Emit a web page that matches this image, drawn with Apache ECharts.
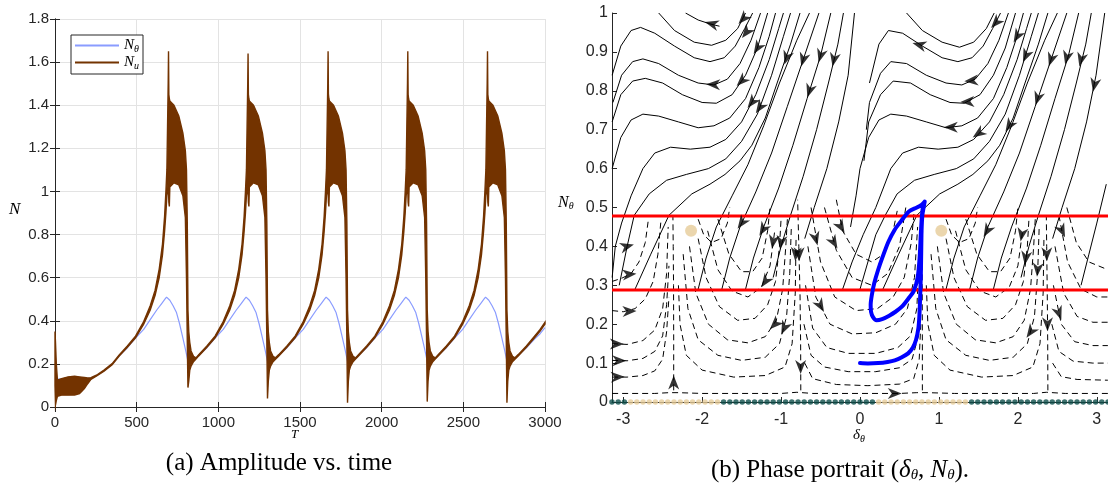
<!DOCTYPE html>
<html><head><meta charset="utf-8">
<script src="https://cdn.jsdelivr.net/npm/echarts@6/dist/echarts.min.js"></script>
<style>html,body{margin:0;padding:0;background:#fff}#c{width:1108px;height:490px}</style>
</head><body><div id="c"></div><script>
// ---------------- (a) Amplitude vs. time ----------------
const timeTicks = [0, 500, 1000, 1500, 2000, 2500, 3000];
const ampTicks = [0, 0.2, 0.4, 0.6, 0.8, 1, 1.2, 1.4, 1.6, 1.8];
// N_theta : [T, value]
const nTheta = [
 [0,0.13],[100,0.131],[200,0.133],[220,0.134],[260,0.148],[300,0.168],[350,0.198],[393,0.238],[443,0.275],[493,0.32],[543,0.36],[583,0.405],[623,0.45],[653,0.48],[673,0.5],[683,0.51],[691,0.505],[703,0.495],[723,0.47],[743,0.44],[763,0.385],[783,0.32],[798,0.27],[816,0.205],[823,0.215],[848,0.222],[863,0.225],
 [880,0.24],[930,0.275],[980,0.32],[1030,0.36],[1070,0.405],[1110,0.45],[1140,0.48],[1160,0.5],[1170,0.51],[1178,0.505],[1190,0.495],[1210,0.47],[1230,0.44],[1250,0.385],[1270,0.32],[1285,0.27],[1303,0.205],[1310,0.215],[1335,0.222],[1350,0.225],
 [1370,0.24],[1420,0.275],[1470,0.32],[1520,0.36],[1560,0.405],[1600,0.45],[1630,0.48],[1650,0.5],[1660,0.51],[1668,0.505],[1680,0.495],[1700,0.47],[1720,0.44],[1740,0.385],[1760,0.32],[1775,0.27],[1793,0.205],[1800,0.215],[1825,0.222],[1840,0.225],
 [1858,0.24],[1908,0.275],[1958,0.32],[2008,0.36],[2048,0.405],[2088,0.45],[2118,0.48],[2138,0.5],[2148,0.51],[2156,0.505],[2168,0.495],[2188,0.47],[2208,0.44],[2228,0.385],[2248,0.32],[2263,0.27],[2281,0.205],[2288,0.215],[2313,0.222],[2328,0.225],
 [2346,0.24],[2396,0.275],[2446,0.32],[2496,0.36],[2536,0.405],[2576,0.45],[2606,0.48],[2626,0.5],[2636,0.51],[2644,0.505],[2656,0.495],[2676,0.47],[2696,0.44],[2716,0.385],[2736,0.32],[2751,0.27],[2769,0.205],[2776,0.215],[2801,0.222],[2816,0.225],
 [2836,0.24],[2886,0.275],[2936,0.315],[2970,0.34],[3000,0.368]
];
// N_u oscillation envelope : [T, lower, upper]
const nU = [
 [0,0.1,0.35],[3,0.01,0.3],[8,0.03,0.2],[15,0.05,0.125],[40,0.055,0.132],[80,0.055,0.14],[120,0.056,0.143],[150,0.062,0.14],[180,0.085,0.137],[200,0.108,0.135],[220,0.128,0.136],
 [260,0.146,0.15],[300,0.166,0.171],[350,0.196,0.201],[393,0.236,0.242],[443,0.277,0.283],[493,0.321,0.329],[543,0.384,0.396],[583,0.45,0.47],[613,0.518,0.542],[638,0.6,0.64],[658,0.705,0.755],[671,0.815,0.885],[679,0.9,1.0],
 [685,0.98,1.1],[689,1.0,1.3],[693,1.05,1.5],[695,1.0,1.65],[697,0.95,1.45],[700,0.93,1.43],[703,1.02,1.42],[728,1.04,1.4],[758,1.03,1.35],[783,0.98,1.27],[798,0.88,1.19],[805,0.6,1.1],[810,0.3,0.85],[814,0.09,0.45],[819,0.12,0.35],[825,0.17,0.3],[833,0.19,0.26],[848,0.21,0.235],[863,0.222,0.228],
 [880,0.237,0.243],[930,0.277,0.283],[980,0.321,0.329],[1030,0.384,0.396],[1070,0.45,0.47],[1100,0.518,0.542],[1125,0.6,0.64],[1145,0.705,0.755],[1158,0.815,0.885],[1166,0.9,1.0],
 [1172,0.98,1.1],[1176,1.0,1.3],[1180,1.05,1.5],[1182,1.0,1.64],[1184,0.95,1.45],[1187,0.93,1.43],[1190,1.02,1.42],[1215,1.04,1.4],[1245,1.03,1.35],[1270,0.98,1.27],[1285,0.88,1.19],[1292,0.6,1.1],[1297,0.3,0.85],[1301,0.04,0.45],[1306,0.12,0.35],[1312,0.17,0.3],[1320,0.19,0.26],[1335,0.21,0.235],[1350,0.222,0.228],
 [1370,0.237,0.243],[1420,0.277,0.283],[1470,0.321,0.329],[1520,0.384,0.396],[1560,0.45,0.47],[1590,0.518,0.542],[1615,0.6,0.64],[1635,0.705,0.755],[1648,0.815,0.885],[1656,0.9,1.0],
 [1662,0.98,1.1],[1666,1.0,1.3],[1670,1.05,1.5],[1672,1.0,1.65],[1674,0.95,1.45],[1677,0.93,1.43],[1680,1.02,1.42],[1705,1.04,1.4],[1735,1.03,1.35],[1760,0.98,1.27],[1775,0.88,1.19],[1782,0.6,1.1],[1787,0.3,0.85],[1791,0.02,0.45],[1796,0.12,0.35],[1802,0.17,0.3],[1810,0.19,0.26],[1825,0.21,0.235],[1840,0.222,0.228],
 [1858,0.237,0.243],[1908,0.277,0.283],[1958,0.321,0.329],[2008,0.384,0.396],[2048,0.45,0.47],[2078,0.518,0.542],[2103,0.6,0.64],[2123,0.705,0.755],[2136,0.815,0.885],[2144,0.9,1.0],
 [2150,0.98,1.1],[2154,1.0,1.3],[2158,1.05,1.5],[2160,1.0,1.65],[2162,0.95,1.45],[2165,0.93,1.43],[2168,1.02,1.42],[2193,1.04,1.4],[2223,1.03,1.35],[2248,0.98,1.27],[2263,0.88,1.19],[2270,0.6,1.1],[2275,0.3,0.85],[2279,0.025,0.45],[2284,0.12,0.35],[2290,0.17,0.3],[2298,0.19,0.26],[2313,0.21,0.235],[2328,0.222,0.228],
 [2346,0.237,0.243],[2396,0.277,0.283],[2446,0.321,0.329],[2496,0.384,0.396],[2536,0.45,0.47],[2566,0.518,0.542],[2591,0.6,0.64],[2611,0.705,0.755],[2624,0.815,0.885],[2632,0.9,1.0],
 [2638,0.98,1.1],[2642,1.0,1.3],[2646,1.05,1.5],[2648,1.0,1.65],[2650,0.95,1.45],[2653,0.93,1.43],[2656,1.02,1.42],[2681,1.04,1.4],[2711,1.03,1.35],[2736,0.98,1.27],[2751,0.88,1.19],[2758,0.6,1.1],[2763,0.3,0.85],[2767,0.02,0.45],[2772,0.12,0.35],[2778,0.17,0.3],[2786,0.19,0.26],[2801,0.21,0.235],[2816,0.222,0.228],
 [2836,0.237,0.243],[2886,0.277,0.283],[2936,0.321,0.329],[2970,0.352,0.36],[3000,0.385,0.393]
];

// ---------------- (b) Phase portrait ----------------
const deltaTicks = [-3, -2, -1, 0, 1, 2, 3];
const nThetaTicks = [0, 0.1, 0.2, 0.3, 0.4, 0.5, 0.6, 0.7, 0.8, 0.9, 1];
const redLevels = [0.288, 0.478];
const fixedPoints = [[-2.14, 0.44], [1.03, 0.44]];
const greenDotsX = [-3.142,-3.063,-2.985,
 -1.728,-1.649,-1.571,-1.492,-1.414,-1.335,-1.257,-1.178,-1.100,-1.021,-0.942,-0.864,-0.785,-0.707,-0.628,-0.550,-0.471,-0.393,-0.314,-0.236,-0.157,-0.079,0.000,0.079,0.157,
 1.414,1.492,1.571,1.649,1.728,1.806,1.885,1.963,2.042,2.121,2.199,2.278,2.356,2.435,2.513,2.592,2.670,2.749,2.827,2.906,2.985,3.063,3.142];
const beigeDotsX = [-2.906,-2.827,-2.749,-2.670,-2.592,-2.513,-2.435,-2.356,-2.278,-2.199,-2.121,-2.042,-1.963,-1.885,-1.806,
 0.236,0.314,0.393,0.471,0.550,0.628,0.707,0.785,0.864,0.942,1.021,1.100,1.178,1.257,1.335];
const blueOrbit = [[0.0,0.1],[0.1,0.099],[0.23,0.1],[0.35,0.103],[0.44,0.107],[0.53,0.115],[0.61,0.125],[0.67,0.14],[0.71,0.16],[0.74,0.19],[0.752,0.22],[0.762,0.27],[0.77,0.32],[0.775,0.38],[0.78,0.44],[0.79,0.48],[0.81,0.505],[0.82,0.515],[0.78,0.507],[0.72,0.5],[0.62,0.49],[0.52,0.465],[0.44,0.443],[0.36,0.412],[0.29,0.375],[0.23,0.34],[0.18,0.305],[0.15,0.275],[0.135,0.25],[0.14,0.232],[0.165,0.218],[0.21,0.21],[0.28,0.213],[0.37,0.222],[0.45,0.232],[0.53,0.245],[0.61,0.265],[0.68,0.285],[0.73,0.32],[0.755,0.37],[0.77,0.43],[0.785,0.48],[0.8,0.505],[0.82,0.515]];

const solidLeft = [
 [[-2.55,1.0],[-2.35,0.955],[-2.1,0.925],[-1.88,0.917],[-1.7,0.93],[-1.55,0.96],[-1.45,1.0]],
 [[-2.21,1.0],[-2.05,0.982],[-1.9,0.972],[-1.78,0.966]],
 [[-3.14,0.84],[-3.03,0.915],[-2.9,0.955],[-2.78,0.963],[-2.6,0.948],[-2.35,0.915],[-2.1,0.885],[-1.9,0.875],[-1.72,0.885],[-1.58,0.915],[-1.46,0.96],[-1.36,1.0]],
 [[-3.13,0.77],[-3.02,0.84],[-2.88,0.875],[-2.75,0.882],[-2.55,0.87],[-2.3,0.84],[-2.05,0.82],[-1.85,0.815],[-1.68,0.83],[-1.52,0.87],[-1.38,0.93],[-1.26,1.0]],
 [[-3.14,0.72],[-3.03,0.79],[-2.88,0.825],[-2.72,0.832],[-2.5,0.82],[-2.25,0.79],[-2.0,0.77],[-1.82,0.768],[-1.62,0.79],[-1.45,0.84],[-1.3,0.91],[-1.17,1.0]],
 [[-3.14,0.6],[-3.03,0.68],[-2.9,0.725],[-2.75,0.74],[-2.55,0.735],[-2.3,0.72],[-2.05,0.705],[-1.85,0.71],[-1.65,0.73],[-1.45,0.78],[-1.28,0.86],[-1.15,0.94],[-1.07,1.0]],
 [[-3.14,0.32],[-3.1,0.4],[-3.02,0.46],[-2.9,0.53],[-2.75,0.6],[-2.6,0.64],[-2.4,0.655],[-2.15,0.65],[-1.9,0.655],[-1.7,0.675],[-1.5,0.72],[-1.32,0.79],[-1.15,0.88],[-1.03,0.96],[-0.97,1.0]],
 [[-3.05,0.3],[-2.95,0.4],[-2.86,0.48],[-2.67,0.535],[-2.45,0.57],[-2.2,0.585],[-1.92,0.6],[-1.7,0.625],[-1.5,0.67],[-1.3,0.74],[-1.12,0.84],[-0.97,0.94],[-0.88,1.0]],
 [[-2.85,0.29],[-2.65,0.38],[-2.42,0.48],[-2.13,0.535],[-1.9,0.56],[-1.71,0.585],[-1.52,0.62],[-1.37,0.66],[-1.2,0.73],[-1.05,0.82],[-0.88,0.92],[-0.76,1.0]],
 [[-2.05,0.29],[-1.95,0.37],[-1.82,0.45],[-1.62,0.53],[-1.42,0.61],[-1.22,0.71],[-1.02,0.82],[-0.8,0.93],[-0.64,1.0]],
 [[-1.75,0.29],[-1.65,0.37],[-1.52,0.45],[-1.32,0.54],[-1.12,0.64],[-0.92,0.76],[-0.72,0.88],[-0.52,1.0]],
 [[-1.45,0.29],[-1.35,0.37],[-1.22,0.45],[-1.03,0.55],[-0.85,0.66],[-0.67,0.78],[-0.5,0.89],[-0.37,1.0]],
 [[-1.1,0.32],[-1.0,0.4],[-0.88,0.48],[-0.72,0.58],[-0.55,0.7],[-0.4,0.82],[-0.28,0.92],[-0.21,1.0]],
 [[-0.7,0.42],[-0.58,0.5],[-0.42,0.6],[-0.27,0.72],[-0.15,0.84],[-0.07,1.0]]
];
const solidRight = [
 [[0.59,1.0],[0.79,0.955],[1.04,0.925],[1.26,0.912],[1.44,0.925],[1.6,0.96],[1.7,1.0]],
 [[0.12,0.82],[0.24,0.92],[0.36,0.955],[0.54,0.948],[0.79,0.915],[1.04,0.885],[1.24,0.875],[1.42,0.885],[1.56,0.915],[1.68,0.96],[1.78,1.0]],
 [[0.08,0.7],[0.12,0.77],[0.26,0.845],[0.39,0.875],[0.59,0.87],[0.84,0.84],[1.09,0.82],[1.29,0.815],[1.46,0.83],[1.62,0.87],[1.76,0.93],[1.88,1.0]],
 [[0.05,0.62],[0.11,0.72],[0.26,0.79],[0.42,0.825],[0.64,0.82],[0.89,0.79],[1.14,0.77],[1.32,0.768],[1.52,0.79],[1.69,0.84],[1.84,0.91],[1.97,1.0]],
 [[-0.12,0.45],[-0.05,0.53],[0.0,0.6],[0.11,0.68],[0.24,0.725],[0.39,0.74],[0.59,0.735],[0.84,0.72],[1.09,0.705],[1.29,0.71],[1.49,0.73],[1.69,0.78],[1.86,0.86],[1.99,0.94],[2.07,1.0]],
 [[-0.22,0.29],[-0.1,0.36],[0.04,0.43],[0.2,0.5],[0.39,0.6],[0.54,0.64],[0.74,0.655],[0.99,0.65],[1.24,0.655],[1.44,0.675],[1.64,0.72],[1.82,0.79],[1.99,0.88],[2.11,0.96],[2.17,1.0]],
 [[0.0,0.29],[0.1,0.36],[0.2,0.43],[0.32,0.48],[0.47,0.535],[0.69,0.57],[0.94,0.585],[1.22,0.6],[1.44,0.625],[1.64,0.67],[1.84,0.74],[2.02,0.84],[2.17,0.94],[2.26,1.0]],
 [[0.29,0.29],[0.49,0.38],[0.72,0.48],[1.01,0.535],[1.24,0.56],[1.43,0.585],[1.62,0.62],[1.77,0.66],[1.94,0.73],[2.09,0.82],[2.26,0.92],[2.38,1.0]],
 [[1.09,0.29],[1.19,0.37],[1.32,0.45],[1.52,0.53],[1.72,0.61],[1.92,0.71],[2.12,0.82],[2.34,0.93],[2.5,1.0]],
 [[1.39,0.29],[1.49,0.37],[1.62,0.45],[1.82,0.54],[2.02,0.64],[2.22,0.76],[2.42,0.88],[2.62,1.0]],
 [[1.69,0.29],[1.79,0.37],[1.92,0.45],[2.11,0.55],[2.29,0.66],[2.47,0.78],[2.64,0.89],[2.77,1.0]],
 [[2.04,0.32],[2.14,0.4],[2.26,0.48],[2.42,0.58],[2.59,0.7],[2.74,0.82],[2.86,0.92],[2.93,1.0]],
 [[2.44,0.42],[2.56,0.5],[2.72,0.6],[2.87,0.72],[2.99,0.84],[3.1,1.0]],
 [[2.8,0.3],[2.9,0.38],[3.0,0.46],[3.12,0.56]]
];
const dashedSeparatrix = [
 [[-3.14,0.022],[-2.6,0.022],[-2.42,0.024],[-2.3,0.024],[-2.0,0.022],[-1.0,0.022],[-0.8,0.025],[-0.6,0.022],[0.5,0.022],[0.72,0.024],[0.86,0.024],[1.2,0.022],[2.2,0.022],[2.36,0.025],[2.6,0.022],[3.14,0.022]],
 [[-2.36,0.03],[-2.36,0.15],[-2.362,0.3],[-2.366,0.4],[-2.37,0.478]],
 [[-0.75,0.03],[-0.752,0.15],[-0.76,0.28],[-0.775,0.4],[-0.79,0.52]],
 [[0.79,0.03],[0.79,0.15],[0.788,0.3],[0.786,0.4],[0.783,0.5]],
 [[2.38,0.03],[2.378,0.15],[2.372,0.28],[2.365,0.4],[2.36,0.48]]
];
const dashedLeft = [
 [[-3.14,0.15],[-2.95,0.148],[-2.75,0.158],[-2.6,0.185],[-2.5,0.24],[-2.45,0.33],[-2.43,0.45]],
 [[-3.14,0.107],[-2.95,0.106],[-2.75,0.112],[-2.6,0.13],[-2.5,0.17],[-2.45,0.25],[-2.42,0.35]],
 [[-3.14,0.064],[-2.95,0.064],[-2.75,0.068],[-2.6,0.08],[-2.5,0.11],[-2.45,0.18],[-2.42,0.27]],
 [[-3.14,0.235],[-3.0,0.232],[-2.85,0.24],[-2.72,0.265],[-2.62,0.31],[-2.56,0.38],[-2.52,0.47]],
 [[-3.14,0.31],[-3.02,0.318],[-2.9,0.33],[-2.8,0.36],[-2.72,0.41],[-2.68,0.47]],
 [[-2.3,0.3],[-2.28,0.2],[-2.2,0.12],[-2.0,0.082],[-1.6,0.064],[-1.2,0.068],[-0.95,0.09],[-0.86,0.15],[-0.82,0.28],[-0.81,0.42]],
 [[-2.24,0.38],[-2.18,0.24],[-2.05,0.16],[-1.8,0.12],[-1.5,0.107],[-1.2,0.115],[-1.02,0.15],[-0.93,0.22],[-0.89,0.33],[-0.87,0.45]],
 [[-2.16,0.4],[-2.08,0.28],[-1.92,0.2],[-1.68,0.16],[-1.42,0.152],[-1.2,0.168],[-1.06,0.21],[-0.98,0.29],[-0.94,0.4],[-0.92,0.47]],
 [[-2.05,0.42],[-1.95,0.32],[-1.78,0.245],[-1.55,0.21],[-1.33,0.215],[-1.17,0.25],[-1.07,0.31],[-1.02,0.4],[-1.0,0.47]],
 [[-1.93,0.44],[-1.8,0.34],[-1.62,0.285],[-1.42,0.27],[-1.25,0.295],[-1.14,0.35],[-1.08,0.44]],
 [[-1.8,0.47],[-1.66,0.38],[-1.5,0.335],[-1.36,0.335],[-1.24,0.37],[-1.17,0.44],[-1.14,0.5]],
 [[-2.05,0.47],[-1.98,0.43],[-1.88,0.41],[-1.76,0.42],[-1.68,0.46],[-1.65,0.5]]
];
const dashedRight = [
 [[-0.7,0.1],[-0.6,0.06],[-0.3,0.045],[0.1,0.042],[0.5,0.046],[0.68,0.06],[0.75,0.11],[0.77,0.2]],
 [[-0.71,0.2],[-0.62,0.12],[-0.45,0.09],[-0.15,0.078],[0.2,0.078],[0.5,0.088],[0.66,0.11],[0.74,0.17],[0.76,0.3]],
 [[-0.69,0.3],[-0.6,0.19],[-0.42,0.14],[-0.15,0.125],[0.2,0.125],[0.48,0.14],[0.64,0.17],[0.72,0.24],[0.75,0.38]],
 [[-0.66,0.4],[-0.56,0.27],[-0.38,0.2],[-0.1,0.175],[0.2,0.178],[0.45,0.2],[0.6,0.24],[0.69,0.32],[0.73,0.45]],
 [[-0.62,0.5],[-0.5,0.36],[-0.32,0.27],[-0.05,0.235],[0.22,0.24],[0.42,0.27],[0.56,0.32],[0.65,0.41],[0.69,0.5]],
 [[-0.45,0.5],[-0.3,0.39],[-0.1,0.32],[0.15,0.3],[0.35,0.33],[0.5,0.4],[0.58,0.5]],
 [[-0.3,0.52],[-0.22,0.44],[-0.05,0.38],[0.15,0.36],[0.3,0.38],[0.42,0.44],[0.48,0.5]],
 [[0.84,0.3],[0.86,0.2],[0.94,0.12],[1.14,0.082],[1.54,0.064],[1.94,0.068],[2.19,0.09],[2.28,0.15],[2.32,0.28],[2.33,0.42]],
 [[0.9,0.38],[0.96,0.24],[1.09,0.16],[1.34,0.12],[1.64,0.107],[1.94,0.115],[2.12,0.15],[2.21,0.22],[2.25,0.33],[2.27,0.45]],
 [[0.98,0.4],[1.06,0.28],[1.22,0.2],[1.46,0.16],[1.72,0.152],[1.94,0.168],[2.08,0.21],[2.16,0.29],[2.2,0.4],[2.22,0.47]],
 [[1.09,0.42],[1.19,0.32],[1.36,0.245],[1.59,0.21],[1.81,0.215],[1.97,0.25],[2.07,0.31],[2.12,0.4],[2.14,0.47]],
 [[1.21,0.44],[1.34,0.34],[1.52,0.285],[1.72,0.27],[1.89,0.295],[2.0,0.35],[2.06,0.44]],
 [[1.34,0.47],[1.48,0.38],[1.64,0.335],[1.78,0.335],[1.9,0.37],[1.97,0.44],[2.0,0.5]],
 [[1.09,0.47],[1.16,0.43],[1.26,0.41],[1.38,0.42],[1.46,0.46],[1.49,0.5]],
 [[2.44,0.1],[2.55,0.065],[2.75,0.058],[3.14,0.056]],
 [[2.43,0.2],[2.52,0.13],[2.7,0.105],[2.95,0.1],[3.14,0.1]],
 [[2.45,0.3],[2.55,0.2],[2.72,0.155],[2.95,0.145],[3.14,0.145]],
 [[2.47,0.4],[2.58,0.28],[2.75,0.22],[2.95,0.205],[3.14,0.205]],
 [[2.52,0.48],[2.63,0.36],[2.8,0.29],[3.0,0.27],[3.14,0.27]],
 [[2.62,0.5],[2.74,0.41],[2.9,0.36],[3.14,0.34]]
];
// arrowheads: [delta, N, direction in degrees (0 = right, 90 = up)]
const arrowsUpper = [
 [-1.88,0.972,165],[-1.48,0.985,228],[-1.44,0.95,232],[-1.3,0.91,238],[-1.86,0.816,178],[-1.5,0.825,225],[-1.37,0.77,232],[-1.27,0.757,236],
 [-0.93,0.885,252],[-0.72,0.88,254],[-0.5,0.89,254],[-0.64,0.8,252],[-0.33,0.88,258],
 [0.75,0.918,165],[1.72,0.975,228],[1.41,0.826,185],[1.36,0.772,182],[1.15,0.706,180],[1.5,0.69,215],[1.89,0.71,238],[1.99,0.94,240],[2.1,0.89,246],
 [2.42,0.88,252],[2.25,0.78,252],[2.62,0.885,256],[2.8,0.88,256],[2.97,0.815,258]
];
const arrowsLower = [
 [-2.95,0.4,15],[-2.92,0.328,5],[-2.92,0.233,2],[-3.08,0.149,0],[-3.05,0.106,0],[-3.07,0.064,2],[-2.36,0.05,90],
 [-1.5,0.46,235],[-1.23,0.443,240],[-1.1,0.412,260],[-1.0,0.41,262],[-0.813,0.38,266],[-0.772,0.38,270],[-0.56,0.42,285],[-0.33,0.41,300],
 [-1.2,0.31,235],[-0.5,0.247,300],[-1.08,0.2,225],[-0.96,0.19,245],[-0.752,0.09,270],[-0.24,0.45,300],[0.44,0.022,0],
 [1.61,0.44,240],[2.05,0.43,260],[2.1,0.37,262],[2.366,0.38,270],[2.25,0.34,265],[2.56,0.44,295],[2.52,0.228,290],[2.375,0.2,270],[2.16,0.18,235]
];

// ---------------- chart ----------------
const chart = echarts.init(document.getElementById('c'), null, {renderer: 'canvas'});
const axisCol = '#262626';
const tickFont = {fontFamily: 'Liberation Sans, Arial, sans-serif', color: axisCol};
const arrowPath = 'path://M0,0 L14,6 L0,12 L4,6 Z';
const xMinB = -Math.PI, xMaxB = Math.PI;
const plain = v => String(v);

function linesSeries(list, dashed, name) {
  return {
    type: 'lines', name: name, coordinateSystem: 'cartesian2d', xAxisIndex: 2, yAxisIndex: 2,
    polyline: true, silent: true, z: 2,
    lineStyle: {color: '#000', width: 1, opacity: 1, type: dashed ? [6, 4] : 'solid'},
    data: list.map(pts => ({coords: pts}))
  };
}
function arrowSeries(list) {
  return {
    type: 'scatter', xAxisIndex: 2, yAxisIndex: 2, symbol: arrowPath, symbolSize: [14, 11],
    symbolRotate: v => v[2], itemStyle: {color: '#000'}, z: 4, silent: true,
    data: list
  };
}

const option = {
  animation: false,
  backgroundColor: '#fff',
  grid: [
    {left: 55, right: 563, top: 19, bottom: 83, show: false},
    {left: 612, right: -4, top: 13, bottom: 88, show: false}
  ],
  legend: {
    data: ['Nθ', 'Nu'], left: 71, top: 35, orient: 'vertical',
    backgroundColor: '#fff', borderColor: axisCol, borderWidth: 1,
    padding: [3, 4, 3, 4], itemGap: 1, itemWidth: 44, itemHeight: 2,
    icon: 'rect',
    formatter: n => n === 'Nθ' ? '{i|N}{s|θ}' : '{i|N}{s|u}',
    textStyle: {rich: {
      i: {fontFamily: 'Liberation Serif', fontStyle: 'italic', fontSize: 15, color: '#000'},
      s: {fontFamily: 'Liberation Serif', fontStyle: 'italic', fontSize: 10, color: '#000', padding: [7, 0, 0, 0]}
    }}
  },
  xAxis: [
    {gridIndex: 0, type: 'value', min: 0, max: 3000, interval: 500,
     axisLine: {lineStyle: {color: axisCol}}, axisTick: {inside: true, length: 5, lineStyle: {color: axisCol}},
     splitLine: {show: true, lineStyle: {color: '#e3e3e3'}},
     axisLabel: Object.assign({fontSize: 15, margin: 8, customValues: timeTicks, formatter: plain}, tickFont)},
    {gridIndex: 0, type: 'value', position: 'top', min: 0, max: 3000, interval: 500,
     axisLine: {lineStyle: {color: axisCol}}, axisTick: {inside: true, length: 5, lineStyle: {color: axisCol}},
     splitLine: {show: false}, axisLabel: {show: false}},
    {gridIndex: 1, type: 'value', min: xMinB, max: xMaxB,
     axisLine: {onZero: false, lineStyle: {color: axisCol}},
     axisTick: {inside: true, length: 5, customValues: deltaTicks, lineStyle: {color: axisCol}},
     splitLine: {show: false},
     axisLabel: Object.assign({fontSize: 16, margin: 10, customValues: deltaTicks, formatter: plain}, tickFont)}
  ],
  yAxis: [
    {gridIndex: 0, type: 'value', min: 0, max: 1.8, interval: 0.2,
     axisLine: {show: true, lineStyle: {color: axisCol}}, axisTick: {show: true, inside: true, length: 5, lineStyle: {color: axisCol}},
     splitLine: {show: true, lineStyle: {color: '#e3e3e3'}},
     axisLabel: Object.assign({fontSize: 15, margin: 6, customValues: ampTicks, formatter: plain}, tickFont)},
    {gridIndex: 0, type: 'value', position: 'right', min: 0, max: 1.8, interval: 0.2,
     axisLine: {show: true, lineStyle: {color: axisCol}}, axisTick: {show: true, inside: true, length: 5, lineStyle: {color: axisCol}},
     splitLine: {show: false}, axisLabel: {show: false}},
    {gridIndex: 1, type: 'value', min: 0, max: 1, interval: 0.1,
     axisLine: {show: true, onZero: false, lineStyle: {color: axisCol}},
     axisTick: {show: true, inside: true, length: 5, lineStyle: {color: axisCol}},
     splitLine: {show: false},
     axisLabel: Object.assign({fontSize: 16, margin: 4, customValues: nThetaTicks, formatter: plain}, tickFont)}
  ],
  series: [
    {type: 'line', name: 'Nθ', xAxisIndex: 0, yAxisIndex: 0, data: nTheta, showSymbol: false, symbol: 'none',
     lineStyle: {color: '#8a9cff', width: 1.2}, itemStyle: {color: '#8a9cff'}, z: 2},
    {type: 'line', name: 'Nu', xAxisIndex: 0, yAxisIndex: 0, data: [], symbol: 'none',
     lineStyle: {color: '#733300', width: 1.5}, itemStyle: {color: '#733300'}},
    {type: 'custom', name: 'band', xAxisIndex: 0, yAxisIndex: 0, data: [[1500, 0.5]], z: 3, silent: true,
     renderItem: (params, api) => {
       const up = nU.map(d => api.coord([d[0], d[2]]));
       const lo = nU.map(d => api.coord([d[0], d[1]])).reverse();
       return {type: 'polygon', shape: {points: up.concat(lo)},
               style: {fill: '#733300', stroke: '#733300', lineWidth: 1.4}};
     }},
    linesSeries(dashedSeparatrix, true, 'sep'),
    linesSeries(dashedLeft, true, 'dl'),
    linesSeries(dashedRight, true, 'dr'),
    linesSeries(solidLeft, false, 'sl'),
    linesSeries(solidRight, false, 'sr'),
    ...redLevels.map(l => ({type: 'line', xAxisIndex: 2, yAxisIndex: 2, symbol: 'none', silent: true, z: 3,
      data: [[xMinB, l], [xMaxB, l]], lineStyle: {color: '#ff0000', width: 3}})),
    arrowSeries(arrowsUpper),
    arrowSeries(arrowsLower),
    {type: 'scatter', xAxisIndex: 2, yAxisIndex: 2, symbolSize: 12, z: 5, silent: true,
     itemStyle: {color: '#e6cc99'}, data: fixedPoints},
    {type: 'scatter', xAxisIndex: 2, yAxisIndex: 2, symbolSize: 5.5, z: 5, silent: true, clip: false,
     itemStyle: {color: '#0d4d4a'}, data: greenDotsX.map(x => [x, 0])},
    {type: 'scatter', xAxisIndex: 2, yAxisIndex: 2, symbolSize: 5.5, z: 5, silent: true, clip: false,
     itemStyle: {color: '#e6cc99'}, data: beigeDotsX.map(x => [x, 0])},
    {type: 'line', xAxisIndex: 2, yAxisIndex: 2, symbol: 'none', smooth: 0.25, silent: true, z: 6,
     data: blueOrbit, lineStyle: {color: '#0000ff', width: 4, cap: 'round', join: 'round'}}
  ],
  graphic: [
    {type: 'text', left: 9, top: 201, style: {text: 'N', font: 'italic 17px "Liberation Serif"', fill: '#000'}},
    {type: 'text', left: 291, top: 428, style: {text: 'T', font: 'italic 13px "Liberation Serif"', fill: '#000'}},
    {type: 'text', left: 558, top: 195, style: {text: '{i|N}{s|θ}', fill: '#000', rich: {
      i: {font: 'italic 16px "Liberation Serif"'}, s: {font: 'italic 10px "Liberation Serif"', padding: [7, 0, 0, 0]}}}},
    {type: 'text', left: 853, top: 428, style: {text: '{i|δ}{s|θ}', fill: '#000', rich: {
      i: {font: 'italic 15px "Liberation Serif"'}, s: {font: 'italic 10px "Liberation Serif"', padding: [7, 0, 0, 0]}}}},
    {type: 'text', x: 279, y: 463, style: {text: '(a) Amplitude vs. time', font: '25px "Liberation Serif"', fill: '#000', align: 'center', verticalAlign: 'middle'}},
    {type: 'text', x: 840, y: 470, style: {text: '(b) Phase portrait ({i|δ}{s|θ}, {i|N}{s|θ}).', font: '25px "Liberation Serif"', fill: '#000', align: 'center', verticalAlign: 'middle', rich: {
      i: {font: 'italic 25px "Liberation Serif"'}, s: {font: 'italic 15px "Liberation Serif"', padding: [10, 0, 0, 0]}}}}
  ]
};
chart.setOption(option);
</script></body></html>
